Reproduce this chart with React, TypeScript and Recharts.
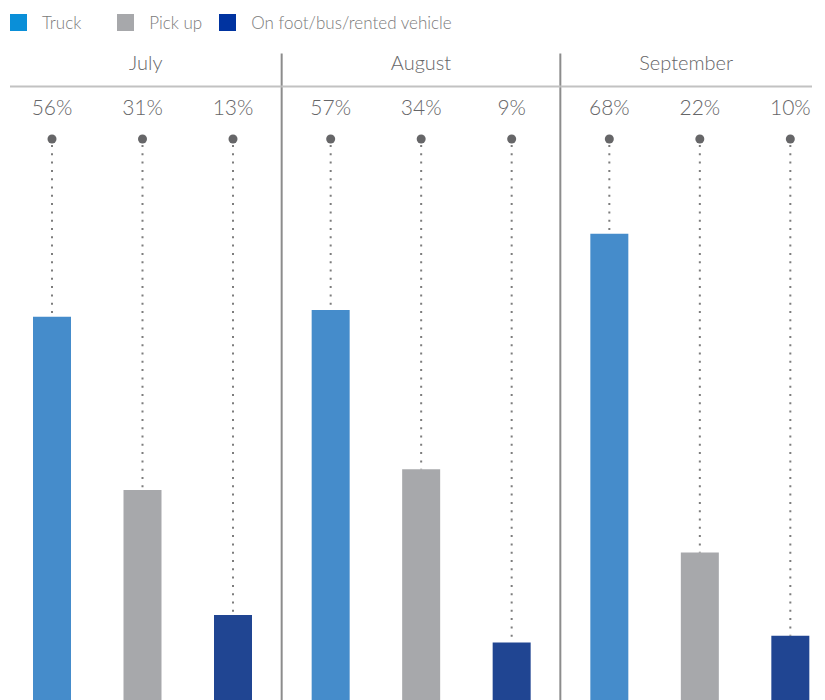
import React from 'react';
import { BarChart, Bar, XAxis, YAxis, LabelList, ReferenceLine, Legend } from 'recharts';

// ---- data ----
const MONTHS = ['July', 'August', 'September'];
const TRUCK = [56, 57, 68];
const PICKUP = [31, 34, 22];
const FOOT = [13, 9, 10];
const SERIES_NAMES = ['Truck', 'Pick up', 'On foot/bus/rented vehicle'];

const data = MONTHS.map((m, i) => ({ month: m, truck: TRUCK[i], pickup: PICKUP[i], foot: FOOT[i] }));

// ---- style / geometry ----
const FONT = 'Lato, "Open Sans", sans-serif';
const TEXT = '#666668';
const BAR_COLORS = ['#458ccb', '#a7a8ab', '#204592'];
const LEGEND_COLORS = ['#0a8fd8', '#a7a8ab', '#0033a0'];
const CHART_W = 840;
const CHART_H = 705;
const MARGIN = { top: 53, right: 1, bottom: 0, left: 3 };
const HEADER_H = 33;
const PLOT_TOP = MARGIN.top + HEADER_H;
const PLOT_W = CHART_W - MARGIN.left - MARGIN.right;
const BAND = PLOT_W / MONTHS.length;
const HEADER_LEFT = 10;
const HEADER_RIGHT = 812;
const Y_MAX = 89.3;
const DIVIDER_TOP = 94;

const MonthTick = (props: any) => {
  const { x, payload } = props;
  const left = Math.max(x - BAND / 2, HEADER_LEFT);
  const right = Math.min(x + BAND / 2, HEADER_RIGHT);
  const cx = (left + right) / 2;
  return (
    <g>
      <text x={cx} y={PLOT_TOP - 16} textAnchor="middle" fill={TEXT} fontSize={20} fontFamily={FONT} fontWeight={300}>
        {payload.value}
      </text>
      <line x1={left} x2={right} y1={PLOT_TOP + 0.5} y2={PLOT_TOP + 0.5} stroke="#c2c2c2" strokeWidth={2} />
    </g>
  );
};

const PinLabel = (props: any) => {
  const vb = props.viewBox || {};
  const x = props.x ?? vb.x;
  const y = props.y ?? vb.y;
  const width = props.width ?? vb.width;
  const cx = x + width / 2;
  return (
    <g>
      <text x={cx} y={PLOT_TOP + 29} textAnchor="middle" fill={TEXT} fontSize={21} fontFamily={FONT} fontWeight={300}>
        {props.value}%
      </text>
      <circle cx={cx} cy={PLOT_TOP + 53} r={4.5} fill={TEXT} />
      <line x1={cx} x2={cx} y1={PLOT_TOP + 59} y2={y} stroke="#7d7d7d" strokeWidth={2} strokeDasharray="2 6.3" />
    </g>
  );
};

const LegendContent = () => (
  <div style={{ display: 'flex', alignItems: 'center', fontFamily: FONT, fontWeight: 300, fontSize: 17, color: '#7a7a7a', whiteSpace: 'nowrap' }}>
    {SERIES_NAMES.map((n, i) => (
      <div key={n} style={{ display: 'flex', alignItems: 'center', marginRight: i === 0 ? 36 : 17 }}>
        <div style={{ width: 17, height: 17, background: LEGEND_COLORS[i], marginRight: 15 }} />
        <span>{n}</span>
      </div>
    ))}
  </div>
);

export default function App() {
  return (
    <div style={{ position: 'relative', marginLeft: -8, marginTop: -8, width: 825, height: 700, overflow: 'hidden', background: '#fff' }}>
      <BarChart width={CHART_W} height={CHART_H} data={data} margin={MARGIN} barGap={52.5}>
        <XAxis dataKey="month" orientation="top" height={HEADER_H} axisLine={false} tickLine={false} interval={0} tick={<MonthTick />} />
        <YAxis hide domain={[0, Y_MAX]} />
        <Legend layout="horizontal" verticalAlign="middle" align="center" content={<LegendContent />} wrapperStyle={{ top: 12, left: 10, width: 'auto', height: 'auto' }} />
        {MONTHS.slice(1).map((m) => (
          <ReferenceLine key={m} segment={[{ x: m, y: 0 }, { x: m, y: DIVIDER_TOP }]} position="start" ifOverflow="visible" stroke="#8c8c8c" strokeWidth={2} />
        ))}
        <Bar dataKey="truck" name={SERIES_NAMES[0]} fill={BAR_COLORS[0]} barSize={38} isAnimationActive={false}>
          <LabelList dataKey="truck" content={(p: any) => <PinLabel {...p} />} />
        </Bar>
        <Bar dataKey="pickup" name={SERIES_NAMES[1]} fill={BAR_COLORS[1]} barSize={38} isAnimationActive={false}>
          <LabelList dataKey="pickup" content={(p: any) => <PinLabel {...p} />} />
        </Bar>
        <Bar dataKey="foot" name={SERIES_NAMES[2]} fill={BAR_COLORS[2]} barSize={38} isAnimationActive={false}>
          <LabelList dataKey="foot" content={(p: any) => <PinLabel {...p} />} />
        </Bar>
      </BarChart>
    </div>
  );
}
